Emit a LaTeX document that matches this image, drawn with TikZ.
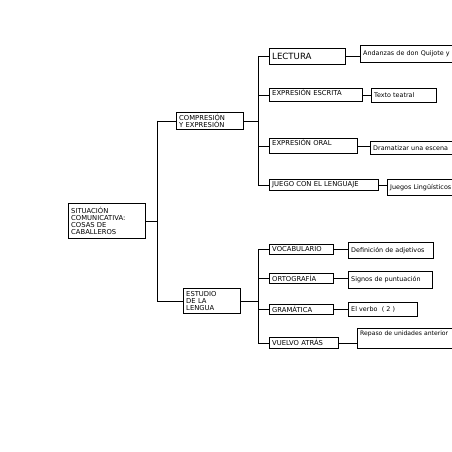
\documentclass[tikz,border=0pt]{standalone}
\usepackage{fontspec}
\setmainfont{DejaVu Sans}
\begin{document}
\begin{tikzpicture}[x=1pt, y=-1pt, line width=0.45pt, font=\fontsize{6.8}{7}\selectfont,
  caja/.style={draw, anchor=north west, align=left, inner xsep=3pt, inner ysep=1pt},
  texto/.style={caja, font=\fontsize{6.4}{7}\selectfont}]
  \clip (0,0) rectangle (452,452);
  \fill[white] (0,0) rectangle (452,452);
  % primer nivel
  \node[caja, text width=71pt, minimum height=35pt] (raiz) at (68,203) {SITUACIÓN\\COMUNICATIVA:\\COSAS DE\\CABALLEROS};
  \node[caja, text width=61pt, minimum height=17pt] (comp) at (176,112) {COMPRESIÓN\\Y EXPRESIÓN};
  \node[caja, text width=51pt, minimum height=25pt] (estu) at (183,288) {ESTUDIO\\ DE LA\\LENGUA};
  % segundo nivel
  \node[caja, text width=70pt, minimum height=16pt, font=\fontsize{8.6}{9}\selectfont] (lect) at (269,48) {LECTURA};
  \node[caja, text width=87pt, text height=6pt, text depth=5pt] (escr) at (269,88) {EXPRESIÓN ESCRITA};
  \node[caja, text width=82pt, text height=6.5pt, text depth=6.5pt] (oral) at (269,138) {EXPRESIÓN ORAL};
  \node[caja, text width=103pt, minimum height=11pt] (juego) at (269,179) {JUEGO CON EL LENGUAJE};
  \node[caja, text width=58pt, minimum height=10pt] (voca) at (269,244) {VOCABULARIO};
  \node[caja, text width=58pt, minimum height=10pt] (orto) at (269,273) {ORTOGRAFÍA};
  \node[caja, text width=58pt, minimum height=10pt] (gram) at (269,304) {GRAMÁTICA};
  \node[caja, text width=63pt, minimum height=11pt] (vuel) at (269,337) {VUELVO ATRÁS};
  % tercer nivel
  \node[texto, text width=94pt, minimum height=17pt] (anda) at (360,45) {Andanzas de don Quijote y};
  \node[texto, text width=59pt, minimum height=14pt] (teat) at (371,88) {Texto teatral};
  \node[texto, text width=84pt, minimum height=13pt] (dram) at (370,141) {Dramatizar una escena};
  \node[texto, text width=67pt, minimum height=16pt] (jlin) at (387,179) {Juegos Lingüísticos};
  \node[texto, text width=79pt, minimum height=16pt] (defi) at (348,242) {Definición de adjetivos};
  \node[texto, text width=78pt, minimum height=17pt] (sign) at (348,271) {Signos de puntuación};
  \node[texto, text width=63pt, minimum height=14pt] (verb) at (348,302) {El verbo \ ( 2 )};
  \node[texto, text width=104pt, text height=6pt, text depth=12pt, font=\fontsize{6.1}{7}\selectfont] (repa) at (357,328) {Repaso de unidades anterior};
  % conectores
  \coordinate (t1) at (157,0);
  \coordinate (t2) at (258,0);
  \draw (raiz.east) -- (raiz.east -| t1);
  \draw (comp.west -| t1) -- (estu.west -| t1);
  \draw (comp.west -| t1) -- (comp.west);
  \draw (estu.west -| t1) -- (estu.west);
  \draw (comp.east) -- (comp.east -| t2);
  \draw (lect.west -| t2) -- (juego.west -| t2);
  \draw (estu.east) -- (estu.east -| t2);
  \draw (voca.west -| t2) -- (vuel.west -| t2);
  \foreach \n in {lect,escr,oral,juego,voca,orto,gram,vuel}
    \draw (\n.west -| t2) -- (\n.west);
  \foreach \a/\b in {lect/anda,escr/teat,oral/dram,juego/jlin,voca/defi,orto/sign,gram/verb,vuel/repa}
    \draw (\a.east) -- (\a.east -| \b.west);
\end{tikzpicture}
\end{document}
